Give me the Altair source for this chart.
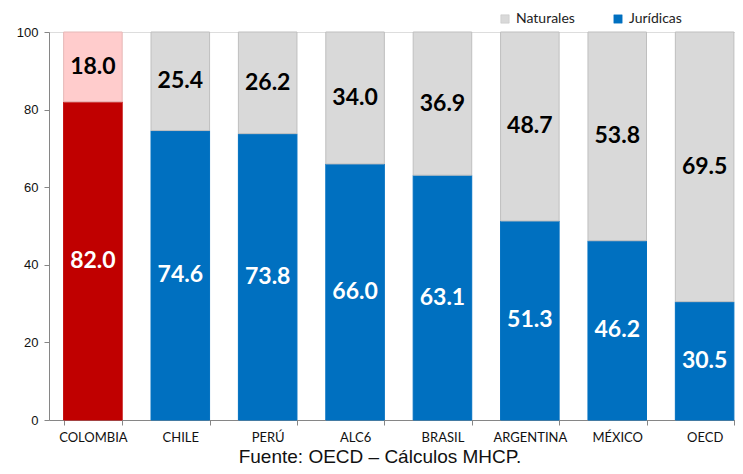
import altair as alt
import pandas as pd

categories = ["COLOMBIA", "CHILE", "PERÚ", "ALC6", "BRASIL", "ARGENTINA", "MÉXICO", "OECD"]
juridicas = [82.0, 74.6, 73.8, 66.0, 63.1, 51.3, 46.2, 30.5]
naturales = [18.0, 25.4, 26.2, 34.0, 36.9, 48.7, 53.8, 69.5]
series = ["Naturales", "Jurídicas"]
y_ticks = [0, 20, 40, 60, 80, 100]
highlight = "COLOMBIA"
source_note = "Fuente: OECD – Cálculos MHCP."

rows = []
for c, j, n in zip(categories, juridicas, naturales):
    suffix = " COL" if c == highlight else ""
    rows.append(dict(pais=c, tipo="Jurídicas", clave="Jurídicas" + suffix, orden=0,
                     y0=0.0, y1=j, mid=j / 2, etiqueta=f"{j:.1f}"))
    rows.append(dict(pais=c, tipo="Naturales", clave="Naturales" + suffix, orden=1,
                     y0=j, y1=j + n, mid=j + n / 2, etiqueta=f"{n:.1f}"))
df = pd.DataFrame(rows)

keys = ["Naturales", "Jurídicas", "Naturales COL", "Jurídicas COL"]
fills = ["#D9D9D9", "#0070C0", "#FFCCCC", "#C00000"]
strokes = ["#BFBFBF", "#0070C0", "#E6B8B7", "#C00000"]

x_enc = alt.X("pais:N", sort=categories, title=None,
              scale=alt.Scale(paddingInner=0.33, paddingOuter=0.09, align=0.93),
              axis=alt.Axis(labelAngle=0, labelFont="Lato", labelFontSize=13,
                            labelColor="#111111", tickBand="extent", tickSize=5,
                            tickColor="#868686", domainColor="#868686",
                            labelPadding=6, grid=False))
y_scale = alt.Scale(domain=[0, 100], nice=False)

bars = alt.Chart(df).mark_bar(strokeWidth=1).encode(
    x=x_enc,
    y=alt.Y("y0:Q", scale=y_scale, title=None,
            axis=alt.Axis(values=y_ticks, labelFont="Liberation Sans", labelFontSize=13,
                          labelColor="#111111", tickSize=5, tickColor="#868686",
                          domainColor="#868686", labelPadding=6, grid=False)),
    y2="y1:Q",
    color=alt.Color("clave:N", scale=alt.Scale(domain=keys, range=fills),
                    legend=alt.Legend(values=series, title=None, orient="none",
                                      direction="horizontal", legendX=449, legendY=-20,
                                      symbolType="square", symbolSize=70,
                                      symbolStrokeColor="#BFBFBF", symbolStrokeWidth=0.5,
                                      labelFont="Lato", labelFontSize=14,
                                      labelColor="#222222", columnPadding=36,
                                      labelOffset=4)),
    stroke=alt.Stroke("clave:N", scale=alt.Scale(domain=keys, range=strokes), legend=None),
    order=alt.Order("orden:Q"),
)

labels = alt.Chart(df).mark_text(font="Lato", fontSize=23, fontWeight="bold",
                                 baseline="middle", align="center").encode(
    x=alt.X("pais:N", sort=categories),
    y=alt.Y("mid:Q", scale=y_scale),
    text="etiqueta:N",
    color=alt.condition("datum.tipo == 'Jurídicas'", alt.value("white"), alt.value("black")),
)

chart = alt.layer(bars, labels).properties(
    width=686, height=388,
    autosize=alt.AutoSizeParams(type="none"),
    padding={"left": 41, "top": 24, "right": 0, "bottom": 47},
    title=alt.TitleParams(source_note, orient="bottom", anchor="middle", dx=-12,
                          font="Liberation Sans", fontSize=19, fontWeight="normal",
                          color="#111111", offset=4),
).configure_view(stroke=None).configure(background="white")

chart.save("out.html", embed_options={"renderer": "svg", "actions": False})
